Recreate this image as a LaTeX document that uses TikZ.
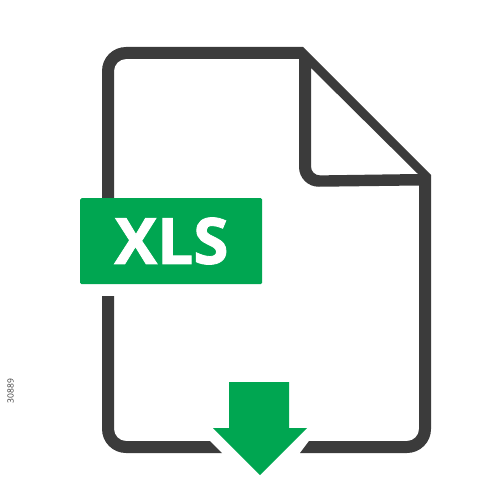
\documentclass[tikz,border=0pt]{standalone}
\usepackage{fontspec}
\setmainfont{Open Sans}
\newfontfamily\xlsfont[BoldFeatures={FakeBold=1.3}]{Open Sans}
\definecolor{darkline}{HTML}{3B3B3B}
\definecolor{xlsgreen}{HTML}{00A651}
\tikzset{
  outlinefill/.style={fill=darkline,draw=none,even odd rule},
  greenfill/.style={fill=xlsgreen,draw=none},
}
\begin{document}
\begin{tikzpicture}[x=1pt,y=-1pt]
\useasboundingbox (0,0) rectangle (500,500);
% main outline: top, fold, right side and bottom right part
\path[outlinefill]
  [rounded corners=24pt] (102,198) -- (102,47) [sharp corners] -- (303,47) -- (431,175)
  [rounded corners=24pt] -- (431,453) [sharp corners] -- (300,453) -- (309,441)
  [rounded corners=12pt] -- (419,441) [sharp corners] -- (419,185.5)
  [rounded corners=20pt] -- (299,187) [sharp corners] -- (299,59)
  [rounded corners=12pt] -- (114,59) [sharp corners] -- (114,198) -- cycle
  (311,68) -- (418,174)
  [rounded corners=9pt] -- (311,175.5) [sharp corners] -- cycle;
% outline below the badge, bottom left part
\path[outlinefill]
  (102,296) [rounded corners=24pt] -- (102,453) [sharp corners] -- (222,453) -- (210,441)
  [rounded corners=12pt] -- (114,441) [sharp corners] -- (114,296) -- cycle;
% badge
\node[greenfill,rounded corners=1.5pt,minimum width=182pt,minimum height=86pt,inner sep=0pt,
      anchor=north west] (badge) at (80,198) {};
\node[text=white,font=\fontsize{64}{64}\selectfont\xlsfont\bfseries,inner sep=0pt] (label) at (171.5,241) {XLS};
% download arrow
\path[greenfill] (229,382) -- (289,382) -- (289,428) -- (307,428) -- (260,475) -- (213,428) -- (229,428) -- cycle;
% stock number
\node[text=darkline,font=\fontsize{8.5}{8.5}\selectfont,rotate=90,inner sep=0pt] (stockno) at (10.5,391) {30889};
\end{tikzpicture}
\end{document}
